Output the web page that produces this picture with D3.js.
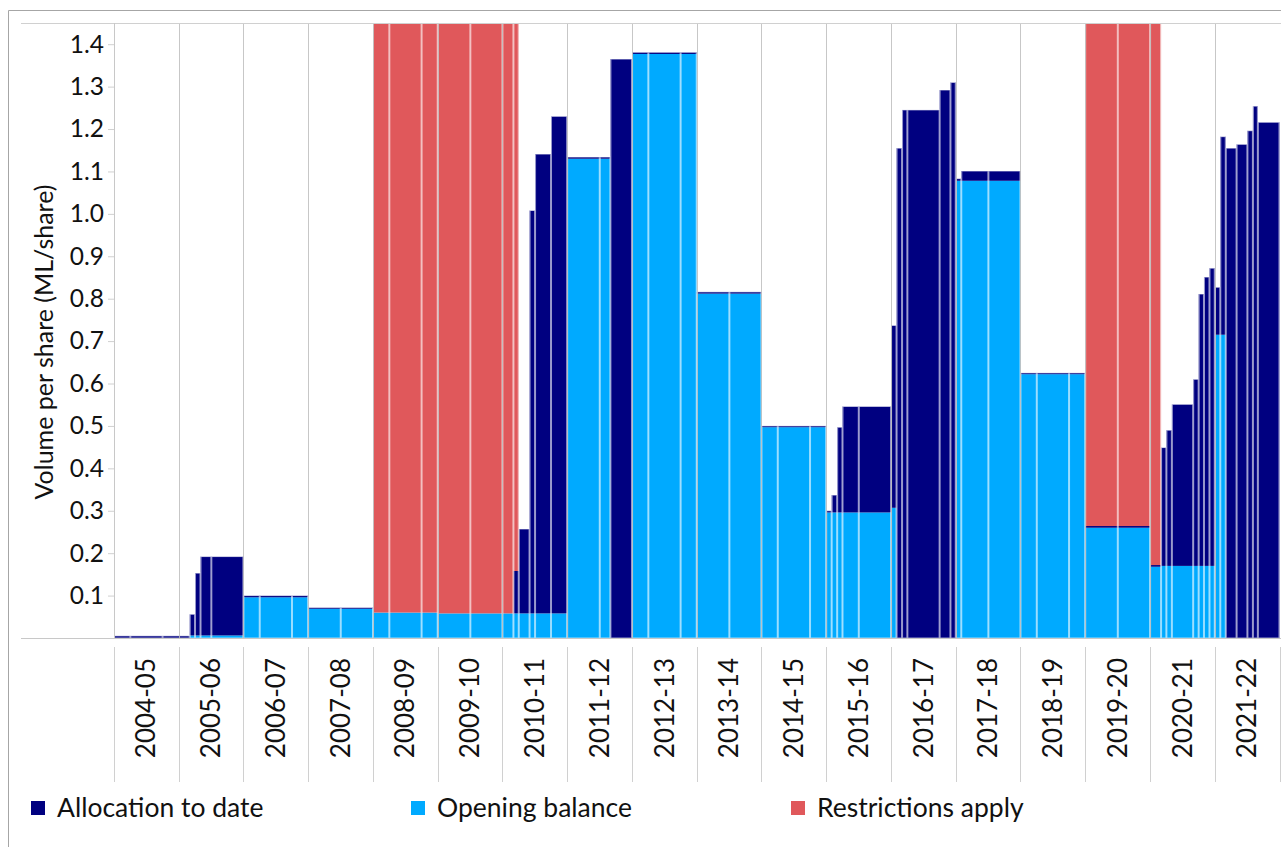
<!DOCTYPE html>
<html><head><meta charset="utf-8">
<script src="https://cdn.jsdelivr.net/npm/d3@7"></script>
<style>
body{margin:0;background:#fff;overflow:hidden}
svg{display:block}
text{font-family:Lato,"Open Sans",sans-serif;fill:#111}
</style>
</head><body>
<svg id="chart" width="1281" height="847"></svg>
<script>
// ---------- data ----------
const waterYears = ["2004-05","2005-06","2006-07","2007-08","2008-09","2009-10","2010-11","2011-12","2012-13","2013-14","2014-15","2015-16","2016-17","2017-18","2018-19","2019-20","2020-21","2021-22"];
const yTickValues = [0.1,0.2,0.3,0.4,0.5,0.6,0.7,0.8,0.9,1.0,1.1,1.2,1.3,1.4];
const periodStart = ["2004-07","2004-10","2005-04","2005-09","2005-10","2005-11","2006-01",
  "2006-07","2006-10","2007-04","2007-07","2008-01",
  "2008-07","2008-10","2009-04","2009-07","2010-01","2010-07",
  "2010-09","2010-10","2010-12","2011-01","2011-04",
  "2011-07","2012-01","2012-03",
  "2012-07","2012-10","2013-04",
  "2013-07","2014-01",
  "2014-07","2014-10","2015-04",
  "2015-07","2015-08","2015-09","2015-10","2016-01",
  "2016-07","2016-08","2016-09","2016-10","2017-04","2017-06",
  "2017-07","2017-08","2018-01",
  "2018-07","2018-10","2019-04",
  "2019-07","2020-01",
  "2020-07","2020-09","2020-10","2020-11","2021-03","2021-04","2021-05","2021-06",
  "2021-07","2021-08","2021-09","2021-11","2022-01","2022-02","2022-03"];
const periodEnd = "2022-07";
const openingBalance = [0,0,0,0.006,0.006,0.006,0.006,
  0.096,0.096,0.096,0.069,0.069,
  0.060,0.060,0.060,0.058,0.058,0.058,
  0.058,0.058,0.058,0.058,0.058,
  1.130,1.130,0,
  1.377,1.377,1.377,
  0.812,0.812,
  0.497,0.497,0.497,
  0.296,0.296,0.296,0.296,0.296,
  0.307,0,0,0,0,0,
  1.078,1.078,1.078,
  0.622,0.622,0.622,
  0.260,0.260,
  0.168,0.170,0.170,0.170,0.170,0.170,0.170,0.170,
  0.715,0.715,0,0,0,0,0];
const allocationToDate = [0.005,0.005,0.005,0.050,0.147,0.186,0.186,
  0.004,0.004,0.004,0.003,0.003,
  0,0,0,0,0,0,
  0.100,0.199,0.950,1.083,1.172,
  0.004,0.004,1.365,
  0.004,0.004,0.004,
  0.004,0.004,
  0.003,0.003,0.003,
  0.004,0.041,0.201,0.250,0.250,
  0.430,1.155,1.245,1.245,1.292,1.310,
  0.005,0.023,0.023,
  0.003,0.003,0.003,
  0.004,0.004,
  0.004,0.279,0.320,0.381,0.440,0.641,0.681,0.702,
  0.112,0.467,1.155,1.164,1.196,1.254,1.216];
const restrictionsApply = [0,0,0,0,0,0,0,
  0,0,0,0,0,
  1,1,1,1,1,1,
  1,0,0,0,0,
  0,0,0,
  0,0,0,
  0,0,
  0,0,0,
  0,0,0,0,0,
  0,0,0,0,0,0,
  0,0,0,
  0,0,0,
  1,1,
  1,0,0,0,0,0,0,0,
  0,0,0,0,0,0,0];
const legendLabels = ["Allocation to date","Opening balance","Restrictions apply"];
const colors = {alloc:"#000080", open:"#00AAFF", restr:"#E0585B"};

// ---------- layout ----------
const svg = d3.select("#chart");
const parse = d3.timeParse("%Y-%m");
const plot = {left:114, right:1279.5, top:23, bottom:638};
const x = d3.scaleTime().domain([parse("2004-07"), parse("2022-07")]).range([plot.left, plot.right]);
const y = d3.scaleLinear().domain([0, 1.45]).range([plot.bottom, plot.top]);

const segs = periodStart.map((s,i)=>({
  x0: x(parse(s)),
  x1: x(parse(i+1<periodStart.length ? periodStart[i+1] : periodEnd)),
  open: openingBalance[i], alloc: allocationToDate[i], restr: restrictionsApply[i]
}));

// outer frame
svg.append("path").attr("d","M8.5,847 V10.5 H1281").attr("fill","none").attr("stroke","#a6a6a6").attr("stroke-width",1);

const g = svg.append("g");
g.selectAll("rect.open").data(segs).join("rect")
  .attr("x",d=>d.x0).attr("width",d=>d.x1-d.x0)
  .attr("y",d=>y(d.open)).attr("height",d=>y(0)-y(d.open)).attr("fill",colors.open);
g.selectAll("rect.alloc").data(segs).join("rect")
  .attr("x",d=>d.x0).attr("width",d=>d.x1-d.x0)
  .attr("y",d=>y(d.open+d.alloc)).attr("height",d=>y(d.open)-y(d.open+d.alloc)).attr("fill",colors.alloc);
g.selectAll("rect.restr").data(segs.filter(d=>d.restr)).join("rect")
  .attr("x",d=>d.x0).attr("width",d=>d.x1-d.x0)
  .attr("y",y.range()[1]).attr("height",d=>y(d.open+d.alloc)-y.range()[1]).attr("fill",colors.restr);
g.selectAll("rect.outline").data(segs).join("rect")
  .attr("x",d=>d.x0+0.5).attr("width",d=>Math.max(0,d.x1-d.x0-1))
  .attr("y",d=>d.restr ? y.range()[1] : y(d.open+d.alloc))
  .attr("height",d=>y(0)-(d.restr ? y.range()[1] : y(d.open+d.alloc)))
  .attr("fill","none").attr("stroke","#fff").attr("stroke-opacity",0.6).attr("stroke-width",1);

// year boundaries
const bounds = d3.range(waterYears.length+1).map(i=>x(new Date(2004+i,6,1)));
svg.append("g").selectAll("line").data(bounds.slice(1,-1)).join("line")
  .attr("x1",d=>Math.round(d)+0.5).attr("x2",d=>Math.round(d)+0.5)
  .attr("y1",plot.top).attr("y2",plot.bottom)
  .attr("stroke","#bdbdbd").attr("stroke-opacity",0.85);
svg.append("g").selectAll("line").data(bounds).join("line")
  .attr("x1",d=>Math.round(d)+0.5).attr("x2",d=>Math.round(d)+0.5)
  .attr("y1",647).attr("y2",782).attr("stroke","#d0d0d0");

// axes lines
svg.append("line").attr("x1",21).attr("x2",1281).attr("y1",plot.top+0.5).attr("y2",plot.top+0.5).attr("stroke","#d0d0d0");
svg.append("line").attr("x1",21).attr("x2",1281).attr("y1",plot.bottom+0.5).attr("y2",plot.bottom+0.5).attr("stroke","#c8c8c8");
svg.append("line").attr("x1",plot.left+0.5).attr("x2",plot.left+0.5).attr("y1",plot.top).attr("y2",plot.bottom).attr("stroke","#c8c8c8");

// y axis
const yAxis = d3.axisLeft(y).tickValues(yTickValues).tickFormat(d3.format(".1f")).tickSize(6).tickPadding(4);
const ya = svg.append("g").attr("transform",`translate(${plot.left},0)`).call(yAxis);
ya.select(".domain").remove();
ya.selectAll(".tick line").attr("stroke","#d0d0d0");
ya.selectAll(".tick text").attr("font-size",24.5).attr("font-family","Lato,sans-serif").attr("fill","#111");

svg.append("text").attr("transform","translate(53,342) rotate(-90)")
  .attr("text-anchor","middle").attr("font-size",25).text("Volume per share (ML/share)");

// x labels
svg.append("g").selectAll("text").data(waterYears).join("text")
  .attr("transform",(d,i)=>`translate(${(bounds[i]+bounds[i+1])/2},658) rotate(-90)`)
  .attr("text-anchor","end").attr("dy","0.35em").attr("font-size",26).text(d=>d);

// legend
const lg = svg.append("g");
const legendX = [31, 411, 791];
const legendColors = [colors.alloc, colors.open, colors.restr];
legendLabels.forEach((l,i)=>{
  lg.append("rect").attr("x",legendX[i]).attr("y",801).attr("width",14).attr("height",14).attr("fill",legendColors[i]);
  lg.append("text").attr("x",legendX[i]+26).attr("y",808).attr("dy","0.35em").attr("font-size",26.5).text(l);
});
</script>
</body></html>
